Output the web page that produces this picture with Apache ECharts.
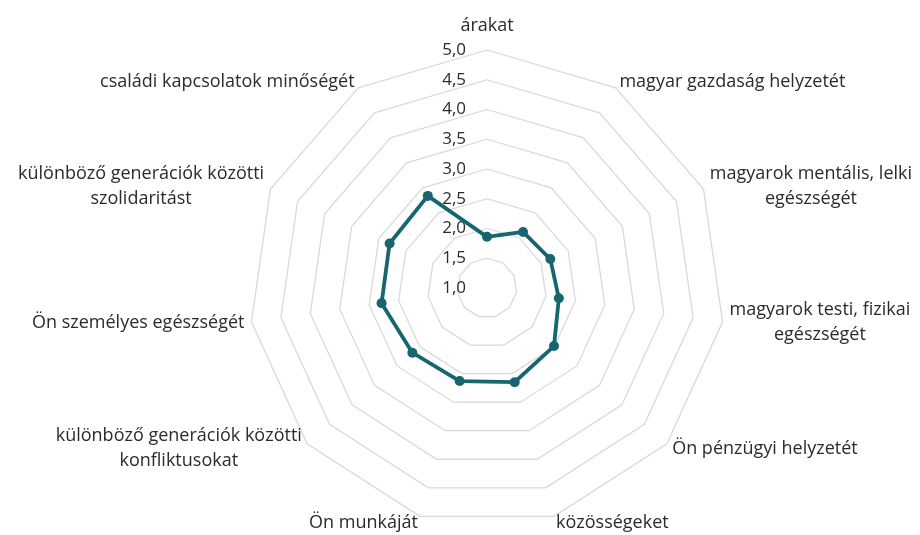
<!DOCTYPE html>
<html>
<head>
<meta charset="utf-8">
<script src="https://cdn.jsdelivr.net/npm/echarts@6/dist/echarts.min.js"></script>
<style>
    html, body {margin: 0; padding: 0; background: #fff;}
    #chart {width: 920px; height: 535px;}
</style>
</head>
<body>
<div id="chart"></div>
<script>
// tengelyek, az óramutató járásával megegyezően a tetejéről
const indicatorNames = [
    'árakat',
    'magyar gazdaság helyzetét',
    'magyarok mentális, lelki\negészségét',
    'magyarok testi, fizikai\negészségét',
    'Ön pénzügyi helyzetét',
    'közösségeket',
    'Ön munkáját',
    'különböző generációk közötti\nkonfliktusokat',
    'Ön személyes egészségét',
    'különböző generációk közötti\nszolidaritást',
    'családi kapcsolatok minőségét'
];
const values = [1.86, 2.12, 2.17, 2.22, 2.49, 2.65, 2.63, 2.66, 2.79, 2.80, 2.84];
const scaleMin = 1;
const scaleMax = 5;
const scaleSteps = 8;

// az echarts radar az óramutatóval ellentétesen halad, ezért az első után megfordítjuk
function toCounterClockwise(arr) {
    return [arr[0]].concat(arr.slice(1).reverse());
}

let chart = echarts.init(document.getElementById('chart'), null, {renderer: 'canvas'});

let indicators = toCounterClockwise(indicatorNames).map(function (name, i) {
    let item = {name: name, min: scaleMin, max: scaleMax};
    if (i === 0) {
        // csak az első tengelyen legyenek skálafeliratok
        item.axisLabel = {show: true};
        item.nameGap = 12;
    }
    return item;
});

let option = {
    animation: false,
    radar: {
        center: [487, 288],
        radius: 238,
        startAngle: 90,
        shape: 'polygon',
        splitNumber: scaleSteps,
        indicator: indicators,
        nameGap: 7,
        axisName: {
            color: '#2b2b2b',
            fontFamily: 'Open Sans',
            fontSize: 18,
            formatter: function (txt) {
                return txt.split('\n').map(function (l) { return '{c|' + l + '}'; }).join('\n');
            },
            rich: {
                c: {align: 'center', fontFamily: 'Open Sans', fontSize: 18, color: '#2b2b2b', lineHeight: 25}
            }
        },
        axisLine: {show: false},
        axisTick: {show: false},
        axisLabel: {
            show: false,
            margin: 21,
            padding: [6, 0, 0, 0],
            color: '#2b2b2b',
            fontFamily: 'Open Sans',
            fontSize: 17,
            formatter: function (v) {
                return v.toFixed(1).replace('.', ',');
            }
        },
        splitLine: {lineStyle: {color: '#d9d9d9', width: 1.3}},
        splitArea: {show: false}
    },
    series: [{
        type: 'radar',
        symbol: 'circle',
        symbolSize: 10,
        lineStyle: {color: '#17656f', width: 3.8},
        itemStyle: {color: '#17656f'},
        data: [{value: toCounterClockwise(values)}]
    }]
};

chart.setOption(option);
</script>
</body>
</html>
